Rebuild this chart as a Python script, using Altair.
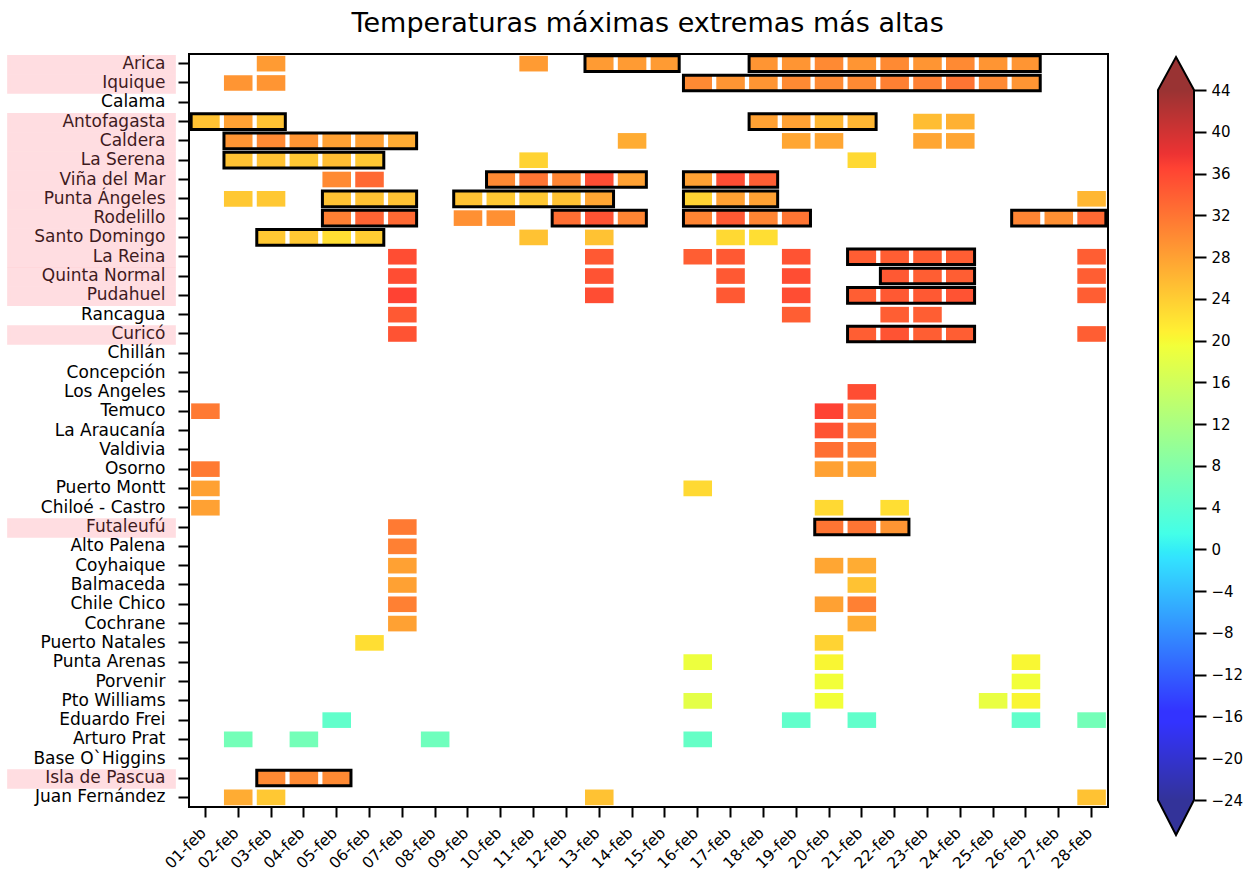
import altair as alt
import pandas as pd

title_text = "Temperaturas máximas extremas más altas"

stations = [
    "Arica", "Iquique ", "Calama", "Antofagasta", "Caldera", "La Serena",
    "Viña del Mar", "Punta Ángeles", "Rodelillo", "Santo Domingo", "La Reina",
    "Quinta Normal", "Pudahuel", "Rancagua", "Curicó", "Chillán", "Concepción",
    "Los Angeles", "Temuco", "La Araucanía", "Valdivia", "Osorno",
    "Puerto Montt", "Chiloé - Castro", "Futaleufú", "Alto Palena", "Coyhaique",
    "Balmaceda", "Chile Chico", "Cochrane", "Puerto Natales", "Punta Arenas",
    "Porvenir", "Pto Williams", "Eduardo Frei", "Arturo Prat",
    "Base O`Higgins", "Isla de Pascua", "Juan Fernández",
]

highlighted = [
    "Arica", "Iquique ", "Antofagasta", "Caldera", "La Serena", "Viña del Mar",
    "Punta Ángeles", "Rodelillo", "Santo Domingo", "La Reina", "Quinta Normal",
    "Pudahuel", "Curicó", "Futaleufú", "Isla de Pascua",
]

day_labels = [
    "01-feb", "02-feb", "03-feb", "04-feb", "05-feb", "06-feb", "07-feb",
    "08-feb", "09-feb", "10-feb", "11-feb", "12-feb", "13-feb", "14-feb",
    "15-feb", "16-feb", "17-feb", "18-feb", "19-feb", "20-feb", "21-feb",
    "22-feb", "23-feb", "24-feb", "25-feb", "26-feb", "27-feb", "28-feb",
]

# (day of February, maximum temperature in °C)
temps = {
    "Arica": [(3, 28.5), (11, 28.5), (13, 28.5), (14, 28.5), (15, 28.5), (18, 29), (19, 29),
              (20, 30), (21, 29), (22, 30), (23, 29), (24, 30), (25, 29), (26, 29)],
    "Iquique ": [(2, 29), (3, 29), (16, 30), (17, 29), (18, 29), (19, 30), (20, 30), (21, 30),
                 (22, 31), (23, 31), (24, 32), (25, 30), (26, 29)],
    "Antofagasta": [(1, 25), (2, 28), (3, 25), (18, 28), (19, 28), (20, 26), (21, 26),
                    (23, 25.5), (24, 26.5)],
    "Caldera": [(2, 29), (3, 30), (4, 29), (5, 28), (6, 28), (7, 27), (14, 27), (19, 27.5),
                (20, 27.5), (23, 27.5), (24, 27.5)],
    "La Serena": [(2, 25), (3, 25), (4, 24.5), (5, 25.5), (6, 24.5), (11, 23.5), (21, 23)],
    "Viña del Mar": [(5, 30), (6, 33), (10, 30), (11, 32), (12, 30.5), (13, 35.5), (14, 28),
                     (16, 28), (17, 35.5), (18, 34)],
    "Punta Ángeles": [(2, 24.5), (3, 24.5), (5, 25), (6, 25), (7, 25), (9, 25), (10, 24.5),
                      (11, 24.5), (12, 25), (13, 27.5), (16, 23.5), (17, 28), (18, 28), (28, 26)],
    "Rodelillo": [(5, 31), (6, 33.5), (7, 33), (9, 29.5), (10, 29.5), (12, 32.5), (13, 35),
                  (14, 30.5), (16, 30.5), (17, 34.5), (18, 30.5), (19, 32), (26, 30.5),
                  (27, 29.5), (28, 33)],
    "Santo Domingo": [(3, 24.5), (4, 24.5), (5, 22.5), (6, 24), (11, 25), (13, 25), (17, 23),
                      (18, 22.5)],
    "La Reina": [(7, 35.5), (13, 34.5), (16, 34), (17, 34.5), (19, 35), (21, 34), (22, 34),
                 (23, 34), (24, 34), (28, 34)],
    "Quinta Normal": [(7, 35.5), (13, 35), (17, 34.5), (19, 35.5), (22, 34.5), (23, 34),
                      (24, 34), (28, 34)],
    "Pudahuel": [(7, 36.5), (13, 35.5), (17, 34.5), (19, 35.5), (21, 34), (22, 34.5),
                 (23, 34.5), (24, 35), (28, 34)],
    "Rancagua": [(7, 34.5), (19, 34), (22, 34), (23, 34)],
    "Curicó": [(7, 35), (21, 34), (22, 35), (23, 34), (24, 34), (28, 34)],
    "Los Angeles": [(21, 35.5)],
    "Temuco": [(1, 31.5), (20, 36.5), (21, 31)],
    "La Araucanía": [(20, 35), (21, 31)],
    "Valdivia": [(20, 32.5), (21, 31)],
    "Osorno": [(1, 31.5), (20, 28), (21, 28)],
    "Puerto Montt": [(1, 28), (16, 23)],
    "Chiloé - Castro": [(1, 28), (20, 23), (22, 22.5)],
    "Futaleufú": [(7, 31.5), (20, 32), (21, 32), (22, 29)],
    "Alto Palena": [(7, 31)],
    "Coyhaique": [(7, 28), (20, 27.5), (21, 27)],
    "Balmaceda": [(7, 28), (21, 25)],
    "Chile Chico": [(7, 31), (20, 28), (21, 31)],
    "Cochrane": [(7, 28), (21, 27)],
    "Puerto Natales": [(6, 22.5), (20, 23.5)],
    "Punta Arenas": [(16, 19), (20, 20.3), (26, 20.2)],
    "Porvenir": [(20, 19.5), (26, 19.5)],
    "Pto Williams": [(16, 18), (20, 19.5), (25, 18.5), (26, 20.3)],
    "Eduardo Frei": [(5, 4.5), (19, 4.5), (21, 4.5), (26, 4.5), (28, 6.5)],
    "Arturo Prat": [(2, 6.5), (4, 6.5), (8, 6), (16, 5)],
    "Isla de Pascua": [(3, 30), (4, 30), (5, 30)],
    "Juan Fernández": [(2, 27), (3, 24.5), (13, 25), (28, 25)],
}

# heat-wave spans: (station, first day, last day)
spans = [
    ("Arica", 13, 15), ("Arica", 18, 26), ("Iquique ", 16, 26),
    ("Antofagasta", 1, 3), ("Antofagasta", 18, 21), ("Caldera", 2, 7),
    ("La Serena", 2, 6), ("Viña del Mar", 10, 14), ("Viña del Mar", 16, 18),
    ("Punta Ángeles", 5, 7), ("Punta Ángeles", 9, 13), ("Punta Ángeles", 16, 18),
    ("Rodelillo", 5, 7), ("Rodelillo", 12, 14), ("Rodelillo", 16, 19), ("Rodelillo", 26, 28),
    ("Santo Domingo", 3, 6), ("La Reina", 21, 24), ("Quinta Normal", 22, 24),
    ("Pudahuel", 21, 24), ("Curicó", 21, 24), ("Futaleufú", 20, 22),
    ("Isla de Pascua", 3, 5),
]

cbar_ticks = [-24, -20, -16, -12, -8, -4, 0, 4, 8, 12, 16, 20, 24, 28, 32, 36, 40, 44]
vmin, vmax = -24, 44

# jet colormap breakpoints (fraction of range, colour)
jet_stops = [
    (0.0, "#000080"), (0.11, "#0000ff"), (0.125, "#0000ff"), (0.34, "#00dbff"),
    (0.35, "#00e6f7"), (0.375, "#15ffe2"), (0.64, "#efff08"), (0.65, "#f7f500"),
    (0.66, "#ffec00"), (0.89, "#ff1300"), (0.91, "#e80000"), (1.0, "#800000"),
]

FONT = "DejaVu Sans"
PINK = "#ff7382"

cell_df = pd.DataFrame(
    [{"station": s, "day": day_labels[d - 1], "temp": t}
     for s, lst in temps.items() for d, t in lst]
)
box_df = pd.DataFrame(
    [{"station": s, "start": day_labels[a - 1], "end": day_labels[b - 1]} for s, a, b in spans]
)
pink_df = pd.DataFrame({"station": highlighted})

jet_domain = [vmin + (vmax - vmin) * f for f, _ in jet_stops]
jet_range = [c for _, c in jet_stops]

W, H = 919, 753

xscale = alt.Scale(domain=day_labels, paddingInner=0.13, paddingOuter=0.065)
yscale = alt.Scale(domain=stations, paddingInner=0.19, paddingOuter=0.095)

yaxis = alt.Axis(title=None, labelFontSize=17, labelFont=FONT, labelColor="black",
                 tickSize=11, tickWidth=2, tickColor="black", domain=False,
                 labelPadding=13, zindex=0)
xaxis = alt.Axis(title=None, labelFontSize=15.5, labelFont=FONT, labelColor="black",
                 labelAngle=-45, labelAlign="right", labelBaseline="middle",
                 tickSize=10, tickWidth=2, tickColor="black", domain=False,
                 labelPadding=13, labelOffset=-2, zindex=0)

Y = alt.Y("station:N", scale=yscale, axis=yaxis)

pink = alt.Chart(pink_df).mark_rect(
    fill=PINK, stroke=PINK, strokeWidth=3.7, opacity=0.235, yOffset=1
).encode(x=alt.value(-180), x2=alt.value(-15), y=Y)

cells = alt.Chart(cell_df).mark_rect(opacity=0.8).encode(
    x=alt.X("day:O", scale=xscale, axis=xaxis),
    y=Y,
    color=alt.Color("temp:Q", scale=alt.Scale(domain=jet_domain, range=jet_range,
                                              interpolate="rgb"), legend=None),
)

boxes = alt.Chart(box_df).mark_rect(filled=False, stroke="black", strokeWidth=3).encode(
    x=alt.X("start:O", scale=xscale, axis=xaxis, bandPosition=0),
    x2=alt.X2("end", bandPosition=1),
    y=Y,
)

main = alt.layer(pink, cells, boxes).properties(
    width=W, height=H, view=alt.ViewBackground(stroke="black", strokeWidth=2)
)

# colour bar
CB_W = 36
px_per_unit = 710 / (vmax - vmin)
cb_domain = [vmin - 7 / px_per_unit, vmax + 36 / px_per_unit]
cb_scale = alt.Scale(domain=cb_domain, nice=False, zero=False)
cb_axis = alt.Axis(orient="right", values=cbar_ticks, title=None, tickSize=12, tickWidth=2,
                   tickColor="black", domain=False, grid=False, labelFontSize=15,
                   labelFont=FONT, labelColor="black", labelPadding=5)

grad = {
    "gradient": "linear", "x1": 0, "y1": 1, "x2": 0, "y2": 0,
    "stops": [{"offset": f, "color": c} for f, c in jet_stops],
}
cb_data = pd.DataFrame({"lo": [vmin], "hi": [vmax], "mid": [(vmin + vmax) / 2]})

cb_rect = alt.Chart(cb_data).mark_rect(fill=grad, fillOpacity=0.8).encode(
    x=alt.value(0), x2=alt.value(CB_W),
    y=alt.Y("lo:Q", scale=cb_scale, axis=cb_axis), y2="hi:Q",
)
half = CB_W / 2
top_h = 33 / half
bot_h = 35 / half
rect_h = (vmax - vmin) / 2 * px_per_unit / half
cb_top = alt.Chart(cb_data).mark_point(
    shape=f"M-1,0L0,{-top_h:.3f}L1,0Z", size=CB_W ** 2, filled=True,
    fill=jet_stops[-1][1], fillOpacity=0.8, strokeOpacity=0,
).encode(x=alt.value(half), y=alt.Y("hi:Q", scale=cb_scale))
cb_bot = alt.Chart(cb_data).mark_point(
    shape=f"M-1,0L0,{bot_h:.3f}L1,0Z", size=CB_W ** 2, filled=True,
    fill=jet_stops[0][1], fillOpacity=0.8, strokeOpacity=0,
).encode(x=alt.value(half), y=alt.Y("lo:Q", scale=cb_scale))
outline = (f"M0,{-(rect_h + top_h):.3f}L1,{-rect_h:.3f}L1,{rect_h:.3f}L0,{rect_h + bot_h:.3f}"
           f"L-1,{rect_h:.3f}L-1,{-rect_h:.3f}Z")
cb_out = alt.Chart(cb_data).mark_point(
    shape=outline, size=CB_W ** 2, filled=False, stroke="black", strokeWidth=2, opacity=1,
).encode(x=alt.value(half), y=alt.Y("mid:Q", scale=cb_scale))

cbar = alt.layer(cb_rect, cb_top, cb_bot, cb_out).properties(width=CB_W, height=H)

chart = alt.hconcat(main, cbar, spacing=44).properties(
    title=alt.TitleParams(title_text, fontSize=27, font=FONT, fontWeight="normal",
                          color="black", anchor="middle", offset=14, dx=23),
    padding={"left": 6, "top": 10, "right": 5, "bottom": 0},
).configure_view(stroke="transparent")

chart.save("out.html", embed_options={"renderer": "svg", "actions": False})
